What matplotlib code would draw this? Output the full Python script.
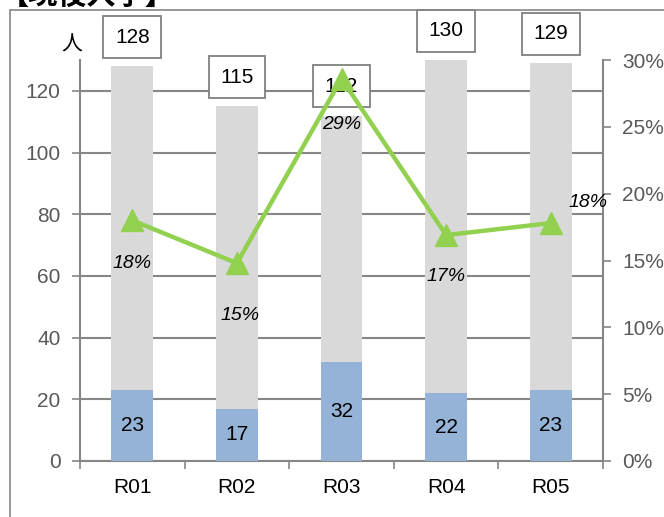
import matplotlib
matplotlib.use("Agg")
import matplotlib.pyplot as plt
from matplotlib.patches import Rectangle
from matplotlib.ticker import FuncFormatter

plt.rcParams['font.family'] = ['Liberation Sans', 'Noto Sans CJK JP', 'DejaVu Sans']

# data
years = ['R01', 'R02', 'R03', 'R04', 'R05']
totals = [128, 115, 112, 130, 129]
counts = [23, 17, 32, 22, 23]
rates = [0.180, 0.148, 0.286, 0.169, 0.178]
rate_labels = ['18%', '15%', '29%', '17%', '18%']

GRAY_BAR = '#D9D9D9'
BLUE_BAR = '#95B3D7'
GREEN = '#92D050'
AXIS = '#868686'
TICK_TXT = '#595959'
FS = 15

fig = plt.figure(figsize=(6.64, 5.17), dpi=100)
ax = fig.add_axes([80 / 664, 1 - 461 / 517, 523 / 664, 401 / 517])

x = list(range(len(years)))
ax.bar(x, totals, width=0.40, color=GRAY_BAR, zorder=2)
ax.bar(x, counts, width=0.40, color=BLUE_BAR, zorder=3)

ax.set_xlim(-0.5, 4.5)
ax.set_ylim(0, 130)
ax.set_yticks(range(0, 121, 20))
ax.grid(axis='y', color=AXIS, linewidth=1.5, zorder=1)
ax.set_axisbelow(True)

ax.set_xticks(x)
ax.set_xticklabels(years, fontsize=FS, color='black')
ax.set_xticks([i - 0.5 for i in range(6)], minor=True)
ax.tick_params(axis='x', which='major', length=0, pad=12)
ax.tick_params(axis='x', which='minor', length=6, width=1.2, color=AXIS, direction='out')
ax.tick_params(axis='y', length=6, width=1.2, color=AXIS, labelsize=FS,
               labelcolor=TICK_TXT, pad=8)

for s in ['top', 'right']:
    ax.spines[s].set_visible(False)
for s in ['left', 'bottom']:
    ax.spines[s].set_color(AXIS)
    ax.spines[s].set_linewidth(1.5)

# totals in boxes above bars
for xi, t in zip(x, totals):
    ax.annotate(str(t), (xi, t), xytext=(0, 21), textcoords='offset points',
                ha='center', va='center', fontsize=FS, zorder=6,
                bbox=dict(boxstyle='square,pad=0.55', fc='white', ec='#808080', lw=1.3))

# counts inside blue bars
for xi, c in zip(x, counts):
    ax.text(xi, c / 2, str(c), ha='center', va='center', fontsize=FS, zorder=6)

ax2 = ax.twinx()
ax2.plot(x, rates, color=GREEN, linewidth=3.2, marker='^', markersize=16,
         zorder=5)
ax2.set_ylim(0, 0.30)
ax2.set_yticks([i * 0.05 for i in range(7)])
ax2.yaxis.set_major_formatter(FuncFormatter(lambda v, p: f'{v * 100:.0f}%'))
ax2.tick_params(axis='y', length=6, width=1.2, color=AXIS, labelsize=FS,
                labelcolor=TICK_TXT, pad=8)
for s in ['top', 'left', 'bottom']:
    ax2.spines[s].set_visible(False)
ax2.spines['right'].set_color(AXIS)
ax2.spines['right'].set_linewidth(1.5)

offsets = [(0, -31), (2, -38), (0, -33), (0, -30), (27, 15)]
for xi, r, lab, off in zip(x, rates, rate_labels, offsets):
    ax2.annotate(lab, (xi, r), xytext=off, textcoords='offset points',
                 ha='center', va='center', fontsize=14, style='italic', zorder=7)

fig.text(72 / 664, 1 - 45 / 517, '人', ha='center', va='center', fontsize=15,
         family=['Noto Sans CJK JP'])

# outer frame and clipped title
fig.patches.append(Rectangle((10 / 664, -0.05), 1.0, 1 - 10 / 517 + 0.05,
                             transform=fig.transFigure, fill=False,
                             ec=AXIS, lw=1.2, zorder=0))
fig.text(0.0, 1 + 5 / 517, '【現役入学】', ha='left', va='center',
         fontsize=21, fontweight='bold', family=['Noto Sans CJK JP'])

fig.savefig('out.png', dpi=100)
